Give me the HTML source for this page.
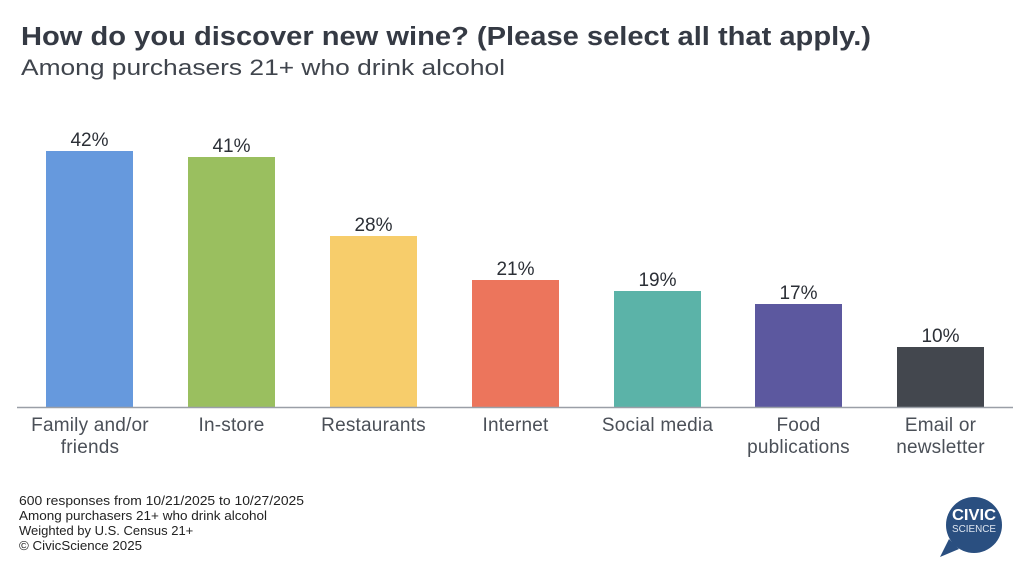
<!DOCTYPE html>
<html>
<head>
<meta charset="utf-8">
<style>
  html,body{margin:0;padding:0;background:#fff;}
  body{width:1024px;height:575px;overflow:hidden;}
  svg{display:block;}
  text{font-family:"Liberation Sans", Arial, sans-serif;}
</style>
</head>
<body>
<svg width="1024" height="575" viewBox="0 0 1024 575" xmlns="http://www.w3.org/2000/svg">
  <rect width="1024" height="575" fill="#ffffff"/>
  <!-- Title -->
  <text x="21" y="45" font-size="25.5" font-weight="bold" fill="#353a44" textLength="850" lengthAdjust="spacingAndGlyphs">How do you discover new wine? (Please select all that apply.)</text>
  <text x="21" y="75" font-size="22.5" fill="#40454d" textLength="484" lengthAdjust="spacingAndGlyphs">Among purchasers 21+ who drink alcohol</text>

  <!-- Bars -->
  <rect x="46" y="151" width="87" height="256" fill="#6699dd"/>
  <rect x="188" y="157" width="87" height="250" fill="#9abf5f"/>
  <rect x="330" y="236" width="87" height="171" fill="#f7cd6b"/>
  <rect x="472" y="280" width="87" height="127" fill="#ec755c"/>
  <rect x="614" y="291" width="87" height="116" fill="#5bb3a8"/>
  <rect x="755" y="304" width="87" height="103" fill="#5c589f"/>
  <rect x="897" y="347" width="87" height="60" fill="#43474e"/>

  <!-- Axis -->
  <line x1="17" y1="407.5" x2="1013" y2="407.5" stroke="#9a9fa7" stroke-width="1.5"/>

  <!-- Value labels -->
  <g font-size="19" fill="#2b2f36" text-anchor="middle">
    <text x="89.5" y="146">42%</text>
    <text x="231.5" y="152">41%</text>
    <text x="373.5" y="231">28%</text>
    <text x="515.5" y="275">21%</text>
    <text x="657.5" y="286">19%</text>
    <text x="798.5" y="299">17%</text>
    <text x="940.5" y="342">10%</text>
  </g>

  <!-- Category labels -->
  <g font-size="19" fill="#4b5058" text-anchor="middle" letter-spacing="0.2">
    <text x="90" y="431">Family and/or</text>
    <text x="90" y="453">friends</text>
    <text x="231.5" y="431">In-store</text>
    <text x="373.5" y="431">Restaurants</text>
    <text x="515.5" y="431">Internet</text>
    <text x="657.5" y="431">Social media</text>
    <text x="798.5" y="431">Food</text>
    <text x="798.5" y="453">publications</text>
    <text x="940.5" y="431">Email or</text>
    <text x="940.5" y="453">newsletter</text>
  </g>

  <!-- Footer -->
  <g font-size="13" fill="#222222">
    <text x="19" y="505" textLength="285" lengthAdjust="spacingAndGlyphs">600 responses from 10/21/2025 to 10/27/2025</text>
    <text x="19" y="520" textLength="248" lengthAdjust="spacingAndGlyphs">Among purchasers 21+ who drink alcohol</text>
    <text x="19" y="535">Weighted by U.S. Census 21+</text>
    <text x="19" y="550" textLength="123" lengthAdjust="spacingAndGlyphs">© CivicScience 2025</text>
  </g>

  <!-- Logo -->
  <g>
    <path d="M949 539 L940 557 L959 549 Z" fill="#2a4f80"/>
    <circle cx="974" cy="525" r="28" fill="#2a4f80"/>
    <text x="974" y="520" font-size="16" font-weight="bold" fill="#ffffff" text-anchor="middle" textLength="44" lengthAdjust="spacingAndGlyphs">CIVIC</text>
    <text x="974" y="532" font-size="10" fill="#dfe6f0" text-anchor="middle" textLength="44" lengthAdjust="spacingAndGlyphs">SCIENCE</text>
  </g>
</svg>
</body>
</html>
